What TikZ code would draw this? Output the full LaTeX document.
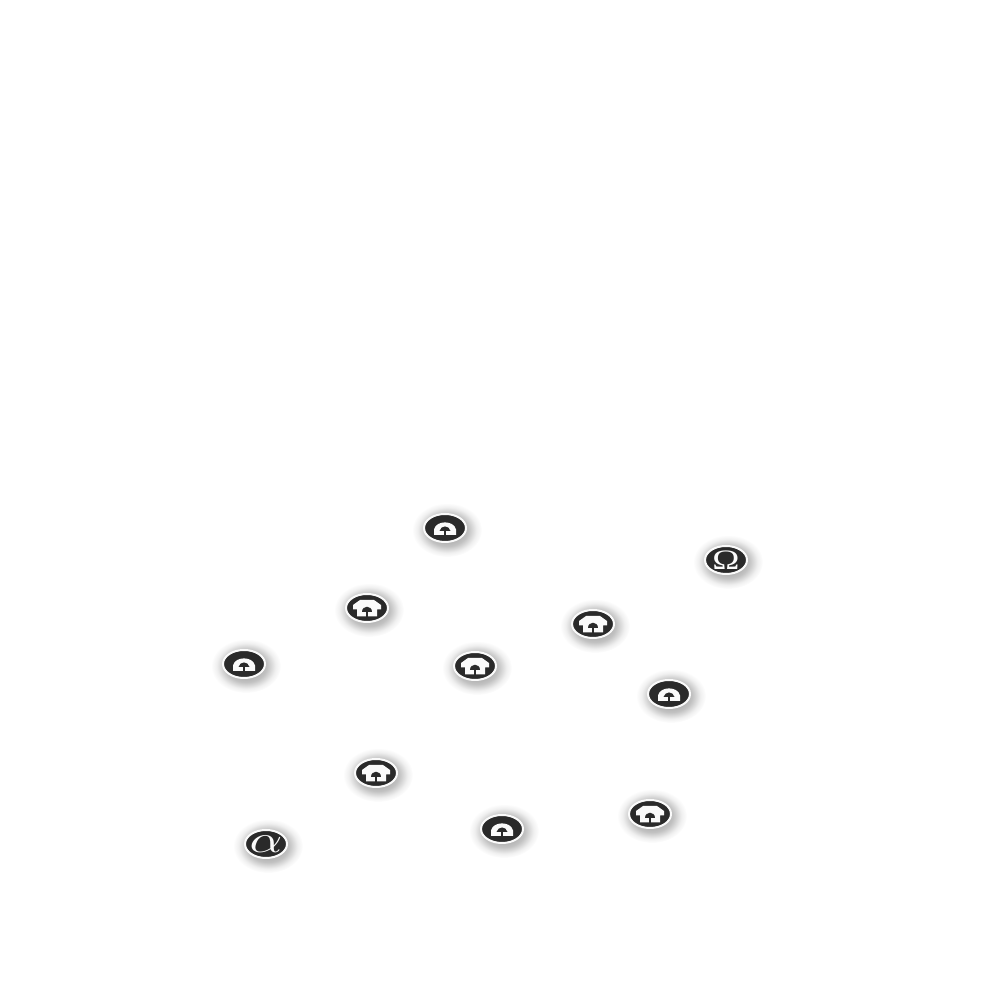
\documentclass[tikz,border=0pt]{standalone}
\usepackage{amsmath}
\usepackage{xcolor}
\usepackage{graphicx}
\usepackage{fontspec}
\newfontfamily\omegafont{Liberation Serif}
\usetikzlibrary{fadings,shapes.geometric}
\definecolor{badgeblack}{RGB}{42, 42, 42}
\definecolor{ringwhite}{RGB}{250, 250, 250}
\pgfdeclareradialshading{softedgeshade}{\pgfpointorigin}{color(0bp)=(transparent!55); color(15bp)=(transparent!76); color(21bp)=(transparent!94); color(25bp)=(transparent!100); color(50bp)=(transparent!100)}
\pgfdeclarefading{softedge}{\pgfuseshading{softedgeshade}}

\tikzset{
    badge/.style={ellipse, draw=ringwhite, line width=0.2mm, fill=badgeblack, text=ringwhite,
        minimum width=0.42cm, minimum height=0.28cm, inner sep=0pt, outer sep=0pt},
    softshadow/.style={fill=black, path fading=softedge, fit fading=true},
    lowphone/.pic={
        \fill[ringwhite] (-0.11,-0.07) -- (-0.11,-0.015) .. controls (-0.09,0.08) and (0.09,0.08) .. (0.11,-0.015) -- (0.11,-0.07) -- cycle;
        \fill[badgeblack] (-0.055,-0.03) .. controls (-0.04,0.03) and (0.04,0.03) .. (0.055,-0.03) -- cycle;
        \fill[badgeblack] (-0.012,-0.08) rectangle (0.012,-0.02);
    },
    highphone/.pic={
        \fill[ringwhite] (-0.14,-0.015) -- (-0.14,0.03) -- (-0.07,0.08) -- (0.07,0.08) -- (0.14,0.03) -- (0.14,-0.015) -- (0.10,-0.015) -- (0.10,-0.085) -- (-0.10,-0.085) -- (-0.10,-0.015) -- cycle;
        \fill[badgeblack] (-0.05,-0.045) .. controls (-0.05,0.03) and (0.05,0.03) .. (0.05,-0.045) -- cycle;
        \fill[badgeblack] (-0.012,-0.09) rectangle (0.012,-0.04);
    }
}
\newcommand{\badgeat}[3]{
    \path[softshadow] ({#2+0.02},{#3-0.02}) ellipse (0.35 and 0.27);
    \node[badge] (#1) at (#2,#3) {};
}
\newcommand{\badgetext}[3]{\raisebox{-0.5\height}[0pt][0pt]{\makebox[0pt]{\scalebox{#1}[#2]{#3}}}}

\begin{document}
\begin{tikzpicture}
    \useasboundingbox (0,0) rectangle (10,10);

    % Two lettered badges
    \path[softshadow] (2.68,1.54) ellipse (0.35 and 0.27);
    \node[badge] (alpha) at (2.66,1.56) {\badgetext{1.45}{1.1}{$\alpha$}};
    \path[softshadow] (7.28,4.38) ellipse (0.35 and 0.27);
    \node[badge] (omega) at (7.26,4.40) {\badgetext{1.3}{1}{\fontsize{8}{8}\omegafont Ω}};

    % Badges with the low handset
    \foreach \name/\x/\y in {lowa/4.45/4.72, lowb/2.44/3.36, lowc/6.69/3.06, lowd/5.02/1.71} {
        \badgeat{\name}{\x}{\y}
        \pic at (\name) {lowphone};
    }

    % Badges with the high handset
    \foreach \name/\x/\y in {higha/3.67/3.92, highb/5.93/3.76, highc/4.75/3.34, highd/3.76/2.27, highe/6.50/1.86} {
        \badgeat{\name}{\x}{\y}
        \pic at (\name) {highphone};
    }

\end{tikzpicture}
\end{document}
